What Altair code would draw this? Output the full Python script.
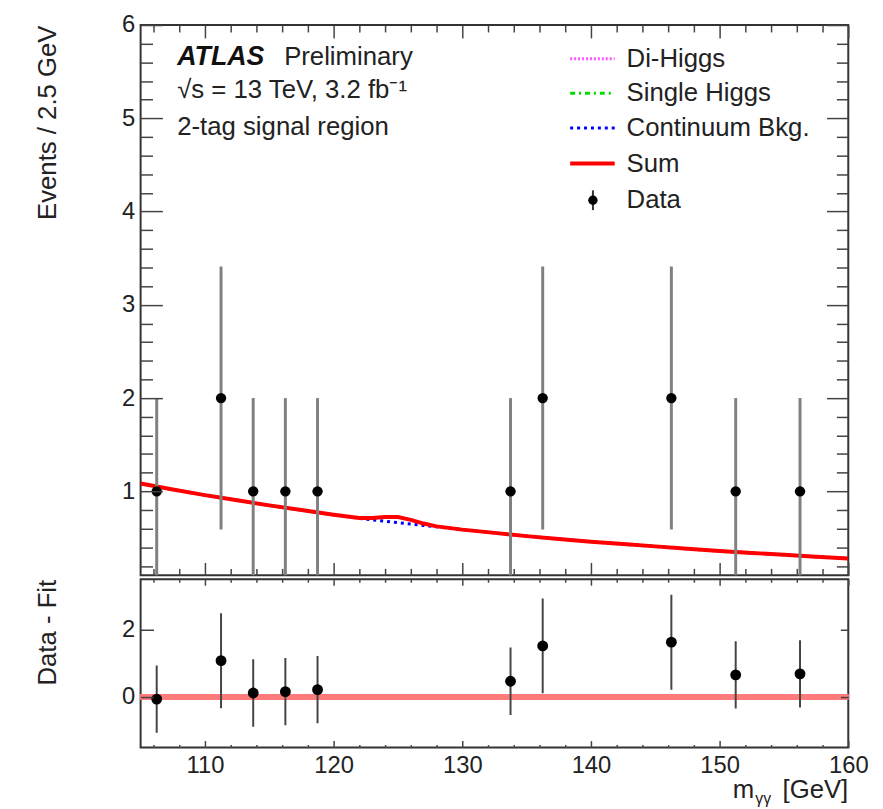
import altair as alt
import pandas as pd

# ---------------- data ----------------
bin_centers = [106.25, 111.25, 113.75, 116.25, 118.75, 133.75, 136.25, 146.25, 151.25, 156.25]
events = [1, 2, 1, 1, 1, 1, 2, 2, 1, 1]
events_lo = [0.0, 0.59, 0.0, 0.0, 0.0, 0.0, 0.59, 0.59, 0.0, 0.0]
events_hi = [2.0, 3.41, 2.0, 2.0, 2.0, 2.0, 3.41, 3.41, 2.0, 2.0]

resid = [-0.06, 1.08, 0.12, 0.16, 0.22, 0.47, 1.52, 1.63, 0.66, 0.69]
resid_lo = [-1.06, -0.33, -0.88, -0.84, -0.78, -0.53, 0.11, 0.22, -0.34, -0.31]
resid_hi = [0.94, 2.49, 1.12, 1.16, 1.22, 1.47, 2.93, 3.04, 1.66, 1.69]

fit_x = [105, 107.5, 110, 112.5, 115, 117.5, 120, 122, 123, 124, 125, 126, 127, 128,
         130, 132.5, 135, 137.5, 140, 142.5, 145, 147.5, 150, 152.5, 155, 157.5, 160]
bkg_y = [1.085, 1.02, 0.96, 0.905, 0.85, 0.80, 0.75, 0.71, 0.695, 0.68, 0.665, 0.65, 0.635, 0.62,
         0.59, 0.555, 0.52, 0.49, 0.46, 0.435, 0.41, 0.385, 0.36, 0.34, 0.32, 0.30, 0.28]
sum_y = [1.085, 1.02, 0.96, 0.905, 0.85, 0.80, 0.75, 0.715, 0.715, 0.725, 0.725, 0.695, 0.655, 0.625,
         0.59, 0.555, 0.52, 0.49, 0.46, 0.435, 0.41, 0.385, 0.36, 0.34, 0.32, 0.30, 0.28]

x_major = [110, 120, 130, 140, 150, 160]
x_minor = [106, 108, 112, 114, 116, 118, 122, 124, 126, 128, 132, 134, 136, 138,
           142, 144, 146, 148, 152, 154, 156, 158]
y_top_major = [1, 2, 3, 4, 5, 6]
y_top_minor = [0.2, 0.4, 0.6, 0.8, 1.2, 1.4, 1.6, 1.8, 2.2, 2.4, 2.6, 2.8, 3.2, 3.4, 3.6, 3.8,
               4.2, 4.4, 4.6, 4.8, 5.2, 5.4, 5.6, 5.8]
y_bot_major = [0, 2]

legend_labels = ["Di-Higgs", "Single Higgs", "Continuum Bkg.", "Sum", "Data"]
info_lines = ["√s = 13 TeV, 3.2 fb⁻¹", "2-tag signal region"]

# ---------------- layout constants ----------------
W = 715
H_TOP = 556
H_BOT = 170
FONT = "Liberation Sans"
TICK = "#444444"

data_df = pd.DataFrame({"x": bin_centers, "n": events, "lo": events_lo, "hi": events_hi,
                        "r": resid, "rlo": resid_lo, "rhi": resid_hi})
fit_df = pd.DataFrame({"x": fit_x, "bkg": bkg_y, "sum": sum_y})

xs = alt.Scale(domain=[105, 160], nice=False, zero=False)
ys_top = alt.Scale(domain=[0.1, 6], nice=False, zero=False)
ys_bot = alt.Scale(domain=[-1.5, 3.5], nice=False, zero=False)


def tick_axis(orient, values, size, offset):
    return alt.Axis(orient=orient, values=values, tickSize=size, offset=offset,
                    labels=False, domain=False, grid=False, ticks=True, title=None,
                    tickColor=TICK, tickWidth=1.5, zindex=1)


def label_axis(orient, values, title, pad, tpad):
    return alt.Axis(orient=orient, values=values, ticks=False, domain=False, grid=False,
                    labels=True, labelPadding=pad, labelFontSize=24, labelColor="#222222",
                    labelFont=FONT, labelFlush=False, title=title, titleFont=FONT,
                    titleFontSize=26, titleFontWeight="normal", titleColor="#222222",
                    titleAnchor="end", titlePadding=tpad)


# ---------------- top panel ----------------
bkg = alt.Chart(fit_df).mark_line(color="#0000ff", strokeWidth=3, strokeDash=[3, 4],
                                  clip=True).encode(
    x=alt.X("x:Q", scale=xs, axis=tick_axis("top", x_minor, 7, -H_TOP)),
    y=alt.Y("bkg:Q", scale=ys_top, axis=tick_axis("right", y_top_major, 22, -W)),
)
sum_line = alt.Chart(fit_df).mark_line(color="#ff0000", strokeWidth=4, clip=True).encode(
    x=alt.X("x:Q", scale=xs, axis=tick_axis("top", x_major, 13, -H_TOP)),
    y=alt.Y("sum:Q", scale=ys_top,
            axis=label_axis("left", y_top_major, "Events / 2.5 GeV", 6, 62)),
)
err_top = alt.Chart(data_df).mark_rule(color="#808080", strokeWidth=3, clip=True).encode(
    x=alt.X("x:Q", scale=xs, axis=tick_axis("bottom", x_major, 13, -H_TOP)),
    y=alt.Y("lo:Q", scale=ys_top, axis=tick_axis("right", y_top_minor, 12, -W)),
    y2="hi:Q",
)
pts_top = alt.Chart(data_df).mark_circle(color="black", size=110, opacity=1).encode(
    x=alt.X("x:Q", scale=xs, axis=tick_axis("bottom", x_minor, 7, -H_TOP)),
    y=alt.Y("n:Q", scale=ys_top, axis=tick_axis("left", y_top_major, 22, -W)),
)
dummy_top = alt.Chart(data_df).mark_circle(opacity=0).encode(
    x=alt.X("x:Q", scale=xs, axis=None),
    y=alt.Y("n:Q", scale=ys_top, axis=tick_axis("left", y_top_minor, 12, -W)),
)

# annotation text
txt_layers = []
atlas = alt.Chart().mark_text(text="ATLAS", font=FONT, fontSize=27, fontStyle="italic",
                              fontWeight="bold", align="left", baseline="middle",
                              color="#111111").encode(x=alt.value(37), y=alt.value(32))
prelim = alt.Chart().mark_text(text="Preliminary", font=FONT, fontSize=26, align="left",
                               baseline="middle", color="#222222").encode(
    x=alt.value(145), y=alt.value(32))
txt_layers += [atlas, prelim]
for i, line in enumerate(info_lines):
    txt_layers.append(alt.Chart().mark_text(text=line, font=FONT, fontSize=26, align="left",
                                            baseline="middle", color="#222222").encode(
        x=alt.value(37), y=alt.value(66 + 37 * i)))

# legend
leg_y = [34, 69, 104, 140, 177]
leg_styles = [
    dict(color="#ff55ff", strokeWidth=3, strokeDash=[2, 2]),
    dict(color="#00dd00", strokeWidth=3, strokeDash=[5, 4, 2, 4]),
    dict(color="#0000ff", strokeWidth=3, strokeDash=[3, 4]),
    dict(color="#ff0000", strokeWidth=4),
]
for i, lab in enumerate(legend_labels):
    txt_layers.append(alt.Chart().mark_text(text=lab, font=FONT, fontSize=26, align="left",
                                            baseline="middle", color="#222222").encode(
        x=alt.value(491), y=alt.value(leg_y[i])))
    if i < 4:
        txt_layers.append(alt.Chart().mark_rule(**leg_styles[i]).encode(
            x=alt.value(434), x2=alt.value(479), y=alt.value(leg_y[i])))
txt_layers.append(alt.Chart().mark_rule(color="#333333", strokeWidth=2).encode(
    x=alt.value(457), y=alt.value(leg_y[4] - 10), y2=alt.value(leg_y[4] + 10)))
txt_layers.append(alt.Chart().mark_circle(color="black", size=90, opacity=1).encode(
    x=alt.value(457), y=alt.value(leg_y[4])))

top = alt.layer(bkg, sum_line, err_top, pts_top, dummy_top, *txt_layers).resolve_axis(
    x="independent", y="independent").properties(width=W, height=H_TOP)

# ---------------- bottom panel ----------------
zero_line = alt.Chart(data_df).mark_rule(color="#ff7a7a", strokeWidth=5, opacity=0.8).encode(
    y=alt.Y(datum=0, scale=ys_bot, axis=label_axis("left", y_bot_major, "Data - Fit", 6, 62)),
)
err_bot = alt.Chart(data_df).mark_rule(color="#444444", strokeWidth=2, clip=True).encode(
    x=alt.X("x:Q", scale=xs, axis=alt.Axis(orient="bottom", values=x_major, ticks=False,
                                           domain=False, grid=False, labelPadding=6,
                                           labelFontSize=24, labelFont=FONT, labelFlush=False,
                                           labelColor="#222222", title=None)),
    y=alt.Y("rlo:Q", scale=ys_bot, axis=tick_axis("right", y_bot_major, 13, -W)),
    y2="rhi:Q",
)
pts_bot = alt.Chart(data_df).mark_circle(color="black", size=120, opacity=1).encode(
    x=alt.X("x:Q", scale=xs, axis=tick_axis("top", x_major, 7, -H_BOT)),
    y=alt.Y("r:Q", scale=ys_bot, axis=tick_axis("left", y_bot_major, 8, -W)),
)
d1 = alt.Chart(data_df).mark_circle(opacity=0).encode(
    x=alt.X("x:Q", scale=xs, axis=tick_axis("top", x_minor, 3, -H_BOT)),
    y=alt.Y("r:Q", scale=ys_bot, axis=None))
d2 = alt.Chart(data_df).mark_circle(opacity=0).encode(
    x=alt.X("x:Q", scale=xs, axis=tick_axis("bottom", x_major, 6, -H_BOT)),
    y=alt.Y("r:Q", scale=ys_bot, axis=None))
d3 = alt.Chart(data_df).mark_circle(opacity=0).encode(
    x=alt.X("x:Q", scale=xs, axis=tick_axis("bottom", x_minor, 3, -H_BOT)),
    y=alt.Y("r:Q", scale=ys_bot, axis=None))

xt_m = alt.Chart().mark_text(text="m", font=FONT, fontSize=26, align="right",
                             baseline="middle", color="#222222").encode(
    x=alt.value(620), y=alt.value(213))
xt_g = alt.Chart().mark_text(text="γγ", font=FONT, fontSize=16, align="left",
                             baseline="middle", color="#222222").encode(
    x=alt.value(621), y=alt.value(222))
xt_u = alt.Chart().mark_text(text="[GeV]", font=FONT, fontSize=26, align="right",
                             baseline="middle", color="#222222").encode(
    x=alt.value(715), y=alt.value(213))

bottom = alt.layer(zero_line, err_bot, pts_bot, d1, d2, d3, xt_m, xt_g, xt_u).resolve_axis(
    x="independent", y="independent").properties(width=W, height=H_BOT)

chart = alt.vconcat(top, bottom, spacing=0).properties(
    padding={"left": 25, "top": 0, "right": 5, "bottom": 5}
).configure_view(stroke="#333333", strokeWidth=2)

chart.save("out.html", embed_options={"renderer": "svg", "actions": False})
